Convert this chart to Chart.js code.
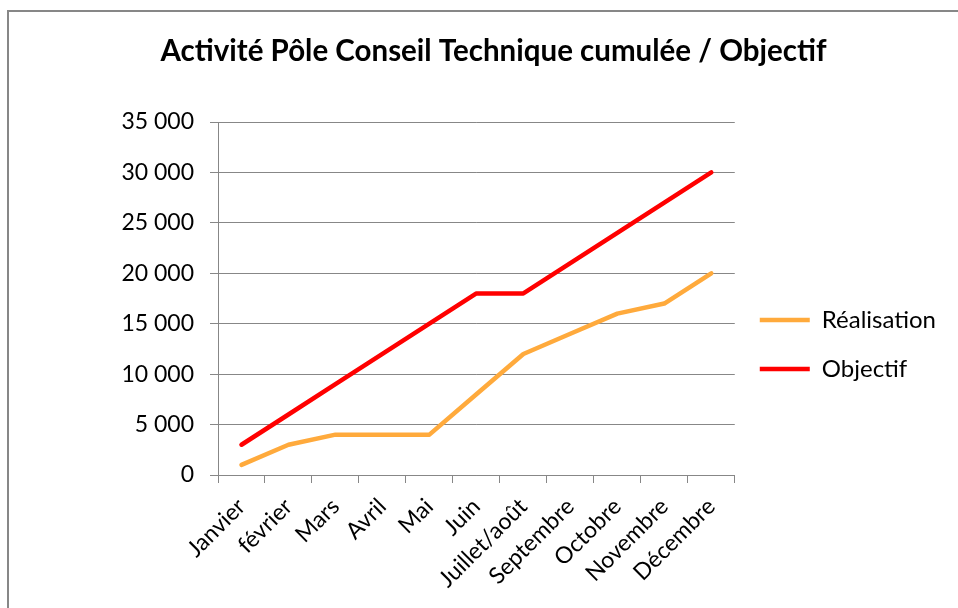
<!DOCTYPE html>
<html>
<head>
<meta charset="utf-8">
<script src="https://cdn.jsdelivr.net/npm/chart.js@4.4.0/dist/chart.umd.min.js"></script>
<style>
  html, body { margin: 0; padding: 0; background: #fff; overflow: hidden; }
  #wrap { position: relative; width: 958px; height: 608px; }
  #cadre { position: absolute; left: 7px; top: 10px; width: 990px; height: 640px; border: 2px solid #878787; pointer-events: none; }
</style>
</head>
<body>
<div id="wrap">
  <canvas id="activiteChart" width="958" height="608"></canvas>
  <div id="cadre"></div>
</div>
<script>
const mois = ['Janvier', 'février', 'Mars', 'Avril', 'Mai', 'Juin', 'Juillet/août', 'Septembre', 'Octobre', 'Novembre', 'Décembre'];
const realisation = [1000, 3000, 4000, 4000, 4000, 8000, 12000, 14000, 16000, 17000, 20000];
const objectif = [3000, 6000, 9000, 12000, 15000, 18000, 18000, 21000, 24000, 27000, 30000];
const ticksY = [0, 5000, 10000, 15000, 20000, 25000, 30000, 35000];

const police = 'Lato, "Noto Sans", sans-serif';

// format français : 35 000
function formatNombre(v) {
    return v.toString().replace(/\B(?=(\d{3})+(?!\d))/g, ' ');
}

const ctx = document.getElementById('activiteChart').getContext('2d');
const activiteChart = new Chart(ctx, {
    type: 'line',
    data: {
        labels: mois,
        datasets: [
            {
                label: 'Réalisation',
                data: realisation,
                borderColor: '#FFAA3C',
                backgroundColor: '#FFAA3C',
                borderWidth: 4.5,
                borderCapStyle: 'round',
                borderJoinStyle: 'round',
                pointRadius: 0,
                tension: 0
            },
            {
                label: 'Objectif',
                data: objectif,
                borderColor: '#FF0000',
                backgroundColor: '#FF0000',
                borderWidth: 4.5,
                borderCapStyle: 'round',
                borderJoinStyle: 'round',
                pointRadius: 0,
                tension: 0
            }
        ]
    },
    options: {
        responsive: false,
        animation: false,
        layout: { padding: { left: 41, right: 12, top: 0, bottom: 0 } },
        plugins: {
            title: {
                display: true,
                text: 'Activité Pôle Conseil Technique cumulée / Objectif',
                color: '#000',
                font: { family: police, size: 29.5, weight: 'bold', lineHeight: 1.2 },
                padding: { top: 34, bottom: 52.6 }
            },
            legend: {
                position: 'right',
                // titre vide : sert juste à descendre les entrées
                title: {
                    display: true,
                    text: ' ',
                    font: { family: police, size: 24 },
                    padding: { top: 0, bottom: 52 }
                },
                labels: {
                    color: '#000',
                    font: { family: police, size: 24 },
                    usePointStyle: true,
                    pointStyle: 'line',
                    pointStyleWidth: 50,
                    boxHeight: 24,
                    padding: 25
                }
            },
            tooltip: { enabled: false }
        },
        scales: {
            x: {
                offset: true,
                grid: {
                    offset: true,
                    drawOnChartArea: false,
                    drawTicks: true,
                    tickLength: 8,
                    color: '#878787'
                },
                border: { color: '#878787', width: 1 },
                ticks: {
                    color: '#000',
                    font: { family: police, size: 23 },
                    maxRotation: 45,
                    minRotation: 45,
                    autoSkip: false,
                    padding: 10
                },
                afterFit: (scale) => { scale.height = 133; }
            },
            y: {
                min: 0,
                max: 35000,
                afterBuildTicks: (scale) => { scale.ticks = ticksY.map(v => ({ value: v })); },
                grid: {
                    color: '#878787',
                    tickLength: 8
                },
                border: { color: '#878787', width: 1 },
                ticks: {
                    color: '#000',
                    font: { family: police, size: 23 },
                    padding: 16,
                    callback: (v) => formatNombre(v)
                },
                afterFit: (scale) => { scale.width = 177; }
            }
        }
    }
});
</script>
</body>
</html>
